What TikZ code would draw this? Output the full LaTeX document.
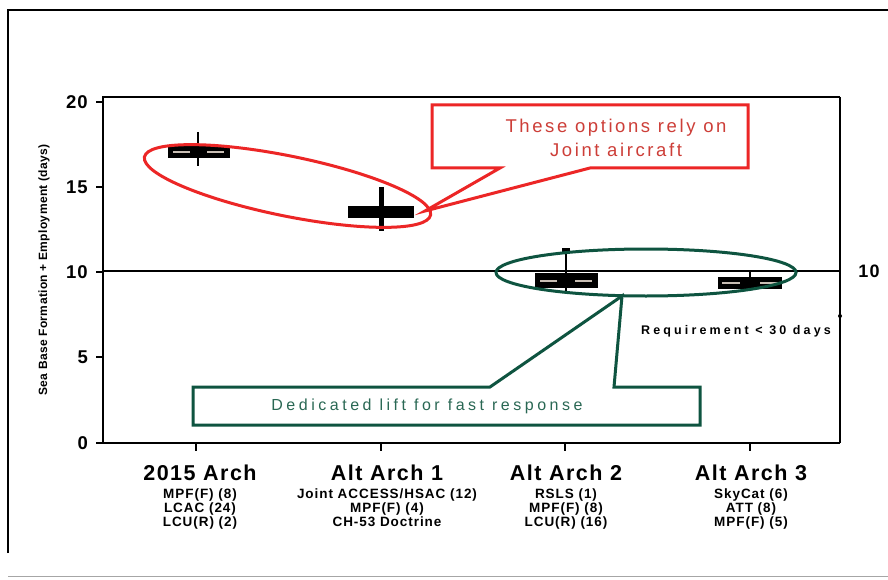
\documentclass[tikz,border=0pt]{standalone}
\usepackage{fontspec}
\setmainfont{Liberation Sans}
\newfontfamily\lsTitle[LetterSpace=7]{Liberation Sans}
\newfontfamily\lsSub[LetterSpace=7]{Liberation Sans}
\newfontfamily\lsTick[LetterSpace=6]{Liberation Sans}
\newfontfamily\lsAxis[LetterSpace=3]{Liberation Sans}
\newfontfamily\lsRed[LetterSpace=14]{Liberation Sans}
\newfontfamily\lsGreen[LetterSpace=22]{Liberation Sans}
\newfontfamily\lsReq[LetterSpace=25]{Liberation Sans}
\usetikzlibrary{shapes.geometric}
\definecolor{cred}{RGB}{236,38,38}
\definecolor{credtext}{RGB}{205,62,56}
\definecolor{cgreen}{RGB}{14,84,64}
\definecolor{cgreentext}{RGB}{42,104,84}
\definecolor{cdash}{RGB}{200,190,180}
\begin{document}
\begin{tikzpicture}[x=1pt,y=-1pt,
  axisline/.style={line width=2.6pt},
  ticklab/.style={anchor=east,inner sep=0pt,font=\lsTick\bfseries\fontsize{18.5}{19}\selectfont},
  cattitle/.style={inner sep=0pt,font=\lsTitle\bfseries\fontsize{21.5}{22}\selectfont},
  catsub/.style={inner sep=0pt,align=center,font=\lsSub\bfseries\fontsize{13.5}{14}\selectfont},
  boxbar/.style={fill=black},
  whisk/.style={line width=2pt},
  meddash/.style={cdash,line width=1.6pt},
  ellred/.style={ellipse,draw=cred,line width=3pt,inner sep=0pt},
  ellgreen/.style={ellipse,draw=cgreen,line width=3pt,inner sep=0pt},
  callred/.style={draw=cred,line width=3pt,fill=white,line join=miter},
  callgreen/.style={draw=cgreen,line width=3pt,fill=white,line join=miter}]
\useasboundingbox (0,0) rectangle (888,580);
\fill[white] (0,0) rectangle (888,580);
% outer frame
\coordinate (fa) at (8,553);
\coordinate (fb) at (8,10);
\coordinate (fc) at (888,10);
\draw[line width=2pt] (fa) -- (fb) -- (fc);
\coordinate (fd) at (8,576);
\coordinate (fe) at (888,576);
\draw[black!35,line width=1pt] (fd) -- (fe);
% plot frame
\coordinate (pTL) at (103,97);
\coordinate (pTR) at (840,97);
\coordinate (pBL) at (103,443);
\coordinate (pBR) at (840,443);
\draw[axisline] (pBR) -- (pBL) -- (pTL) -- (pTR);
\draw[line width=2pt] (pTR) -- (pBR);
% y ticks and labels
\foreach \v/\yy in {0/443,5/357,10/272,15/187,20/102}{
  \coordinate (t\v) at (96,\yy);
  \coordinate (s\v) at (103,\yy);
  \draw[line width=2pt] (t\v) -- (s\v);
  \node[ticklab] (yl\v) at (88,\yy) {\v};
}
% x ticks
\foreach \i/\xx in {a/196,b/381,c/565,d/750}{
  \coordinate (xt\i) at (\xx,443);
  \coordinate (xb\i) at (\xx,451);
  \draw[line width=2.5pt] (xt\i) -- (xb\i);
}
% y axis title
\node[rotate=90,inner sep=0pt,font=\lsAxis\bfseries\fontsize{12}{13}\selectfont] (ytitle) at (44,270) {Sea Base Formation + Employment (days)};
% 10 day line
\coordinate (la) at (103,271);
\coordinate (lb) at (840,271);
\draw[line width=2.8pt] (la) -- (lb);
\node[inner sep=0pt,font=\lsTick\bfseries\fontsize{18}{18}\selectfont] (ten) at (869,271) {10};
\fill (840,316) circle (2pt);
\node[inner sep=0pt,font=\lsReq\bfseries\fontsize{12.5}{13}\selectfont] (req) at (736,331) {Requirement < 30 days};
% box plots
% 2015
\coordinate (w1a) at (198,132); \coordinate (w1b) at (198,166);
\draw[whisk] (w1a) -- (w1b);
\fill[boxbar] (168,146) rectangle (230,158);
\draw[meddash] (173,152) -- (190,152) (207,152) -- (224,152);
% Alt 1
\coordinate (w2a) at (381,187); \coordinate (w2b) at (381,231);
\draw[line width=5pt] (w2a) -- (w2b);
\fill[boxbar] (348,206) rectangle (414,218);
% Alt 2
\coordinate (w3a) at (566,248); \coordinate (w3b) at (566,294);
\draw[whisk] (w3a) -- (w3b);
\fill (562,248) rectangle (570,254);
\fill[boxbar] (535,273) rectangle (598,288);
\draw[meddash] (540,281) -- (557,281) (575,281) -- (592,281);
% Alt 3
\coordinate (w4a) at (750,272); \coordinate (w4b) at (750,291);
\draw[whisk] (w4a) -- (w4b);
\fill[boxbar] (718,277) rectangle (782,289);
\draw[meddash] (722,283) -- (740,283) (760,283) -- (778,283);
% ellipses
\node[ellred,minimum width=292pt,minimum height=60pt,rotate=-11.5] (redell) at (287.5,186) {};
\node[ellgreen,minimum width=300pt,minimum height=47pt] (greenell) at (646,272.5) {};
% red callout
\coordinate (r1) at (432,105); \coordinate (r2) at (748,105);
\coordinate (r3) at (748,168); \coordinate (r4) at (590,168);
\coordinate (rtip) at (425,211); \coordinate (r5) at (500,168);
\coordinate (r6) at (432,168);
\draw[callred] (r1) -- (r2) -- (r3) -- (r4) -- (rtip) -- (r5) -- (r6) -- cycle;
\node[inner sep=0pt,align=center,text=credtext,font=\lsRed\fontsize{18.5}{24}\selectfont] (redtext) at (616,138) {These options rely on\\Joint aircraft};
% green callout
\coordinate (g1) at (193,387); \coordinate (g2) at (490,387);
\coordinate (gtip) at (622,296); \coordinate (g3) at (614,387);
\coordinate (g4) at (700,387); \coordinate (g5) at (700,425);
\coordinate (g6) at (193,425);
\draw[callgreen] (g1) -- (g2) -- (gtip) -- (g3) -- (g4) -- (g5) -- (g6) -- cycle;
\node[inner sep=0pt,text=cgreentext,font=\lsGreen\fontsize{16}{18}\selectfont] (greentext) at (427,406) {Dedicated lift for fast response};
% category labels
\node[cattitle] (c1) at (200,473) {2015 Arch};
\node[cattitle] (c2) at (387,473) {Alt Arch 1};
\node[cattitle] (c3) at (566,473) {Alt Arch 2};
\node[cattitle] (c4) at (751,473) {Alt Arch 3};
\node[catsub,anchor=north] (d1) at (200,489) {MPF(F) (8)\\LCAC (24)\\LCU(R) (2)};
\node[catsub,anchor=north] (d2) at (387,489) {Joint ACCESS/HSAC (12)\\MPF(F) (4)\\CH-53 Doctrine};
\node[catsub,anchor=north] (d3) at (566,489) {RSLS (1)\\MPF(F) (8)\\LCU(R) (16)};
\node[catsub,anchor=north] (d4) at (751,489) {SkyCat (6)\\ATT (8)\\MPF(F) (5)};
\end{tikzpicture}
\end{document}
